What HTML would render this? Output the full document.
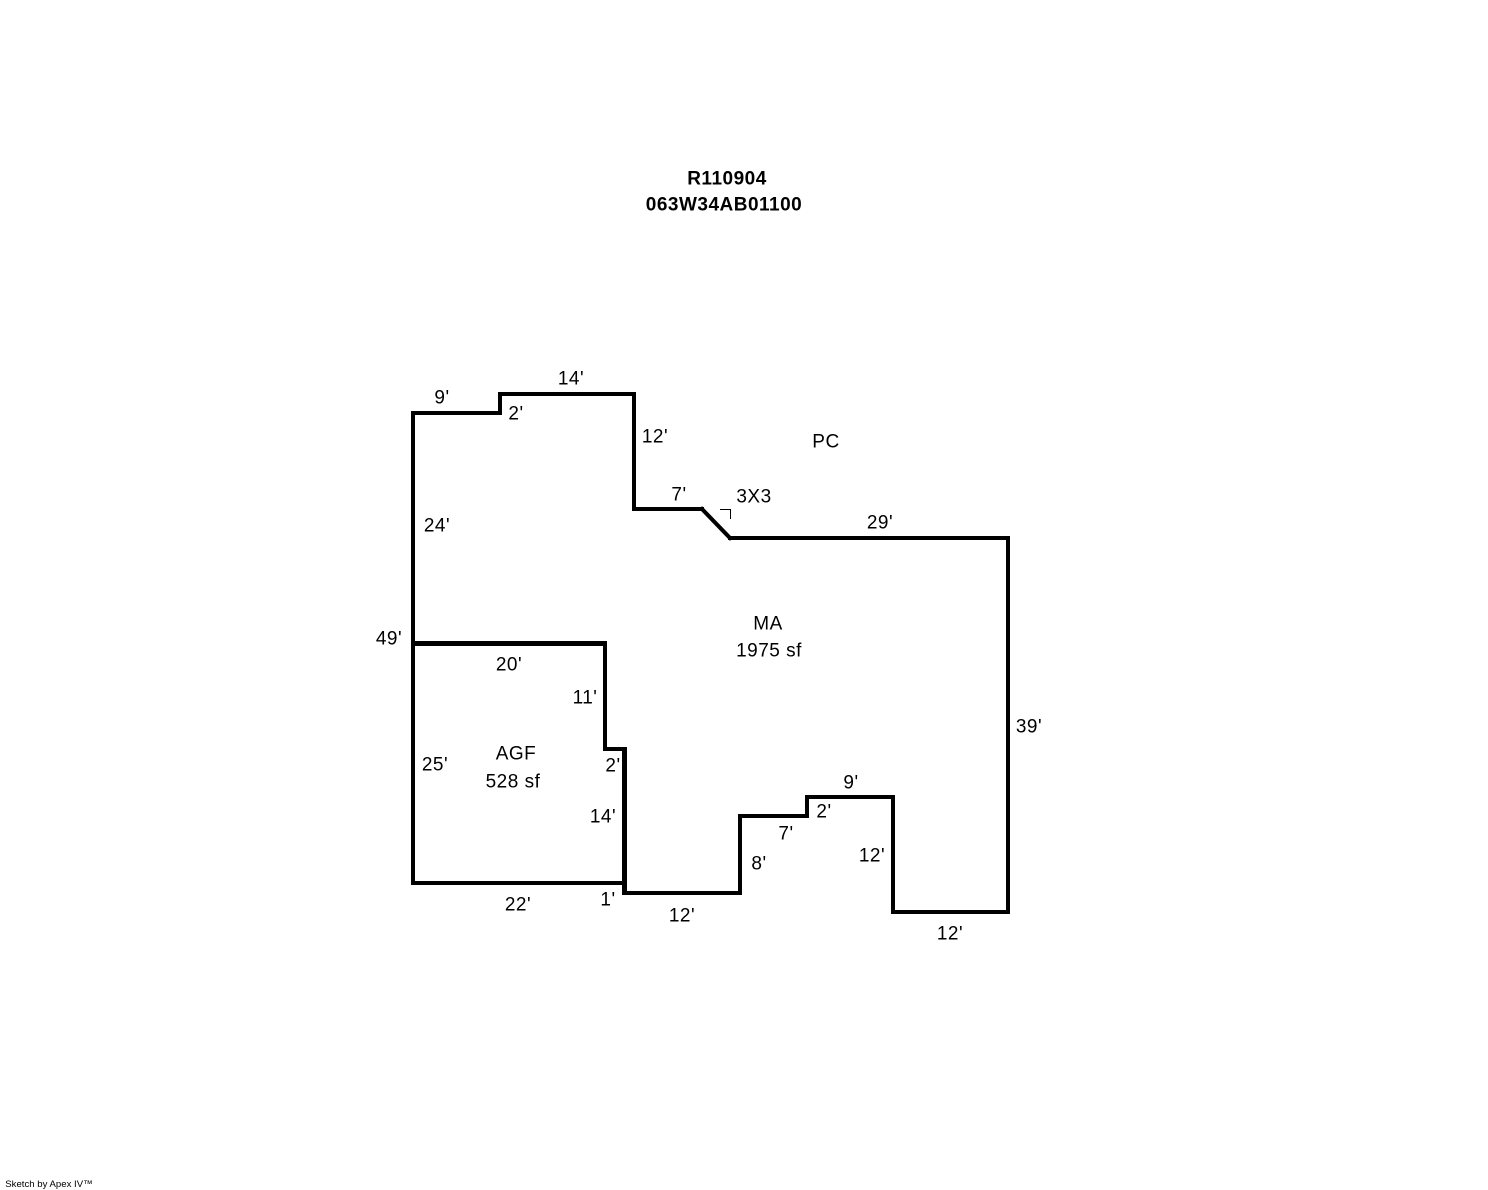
<!DOCTYPE html>
<html>
<head>
<meta charset="utf-8">
<style>
html,body{margin:0;padding:0;background:#fff;width:1488px;height:1190px;overflow:hidden}
svg{display:block}
text{font-family:"Liberation Sans",Arial,sans-serif;font-size:19px;letter-spacing:.5px;fill:#000;text-anchor:middle}
</style>
</head>
<body>
<svg width="1488" height="1190" viewBox="0 0 1488 1190" xmlns="http://www.w3.org/2000/svg">
<rect width="1488" height="1190" fill="#fff"/>
<g fill="none" stroke="#000" stroke-width="4" stroke-linejoin="miter" stroke-linecap="square" shape-rendering="crispEdges">
<path d="M413 883V413H500V394H634V509H702"/>
<path d="M730 538H1008V912H893V797H807V816H740V893H625V749H605V643H413"/>
<path d="M413 883H625"/>
</g>
<path d="M702 509L730 538" fill="none" stroke="#000" stroke-width="4" stroke-linecap="square"/>
<rect x="413" y="641" width="194" height="5" fill="#000"/>
<rect x="622" y="747" width="5" height="148" fill="#000"/>
<path d="M720 509.500H730.500V519" fill="none" stroke="#000" stroke-width="1"/>
<g style="font-weight:bold;letter-spacing:.2px">
<text x="727" y="184.500">R110904</text>
<text x="724" y="210.500">063W34AB01100</text>
</g>
<g transform="translate(0,.5)">
<text x="442" y="403">9'</text>
<text x="571" y="384">14'</text>
<text x="516" y="419">2'</text>
<text x="655" y="442">12'</text>
<text x="679" y="500">7'</text>
<text x="754" y="502">3X3</text>
<text x="826" y="447">PC</text>
<text x="880" y="528">29'</text>
<text x="437" y="531">24'</text>
<text x="389" y="644">49'</text>
<text x="509" y="670">20'</text>
<text x="768" y="629">MA</text>
<text x="769" y="656">1975 sf</text>
<text x="585" y="703">11'</text>
<text x="1029" y="732">39'</text>
<text x="435" y="770">25'</text>
<text x="516" y="759">AGF</text>
<text x="513" y="787">528 sf</text>
<text x="613" y="771">2'</text>
<text x="603" y="822">14'</text>
<text x="851" y="788">9'</text>
<text x="824" y="817">2'</text>
<text x="786" y="839">7'</text>
<text x="872" y="861">12'</text>
<text x="759" y="869">8'</text>
<text x="518" y="910">22'</text>
<text x="608" y="905">1'</text>
<text x="682" y="921">12'</text>
<text x="950" y="939">12'</text>
</g>
<text x="49" y="1187" style="font-size:9.600px;letter-spacing:0">Sketch by Apex IV™</text>
</svg>
</body>
</html>
